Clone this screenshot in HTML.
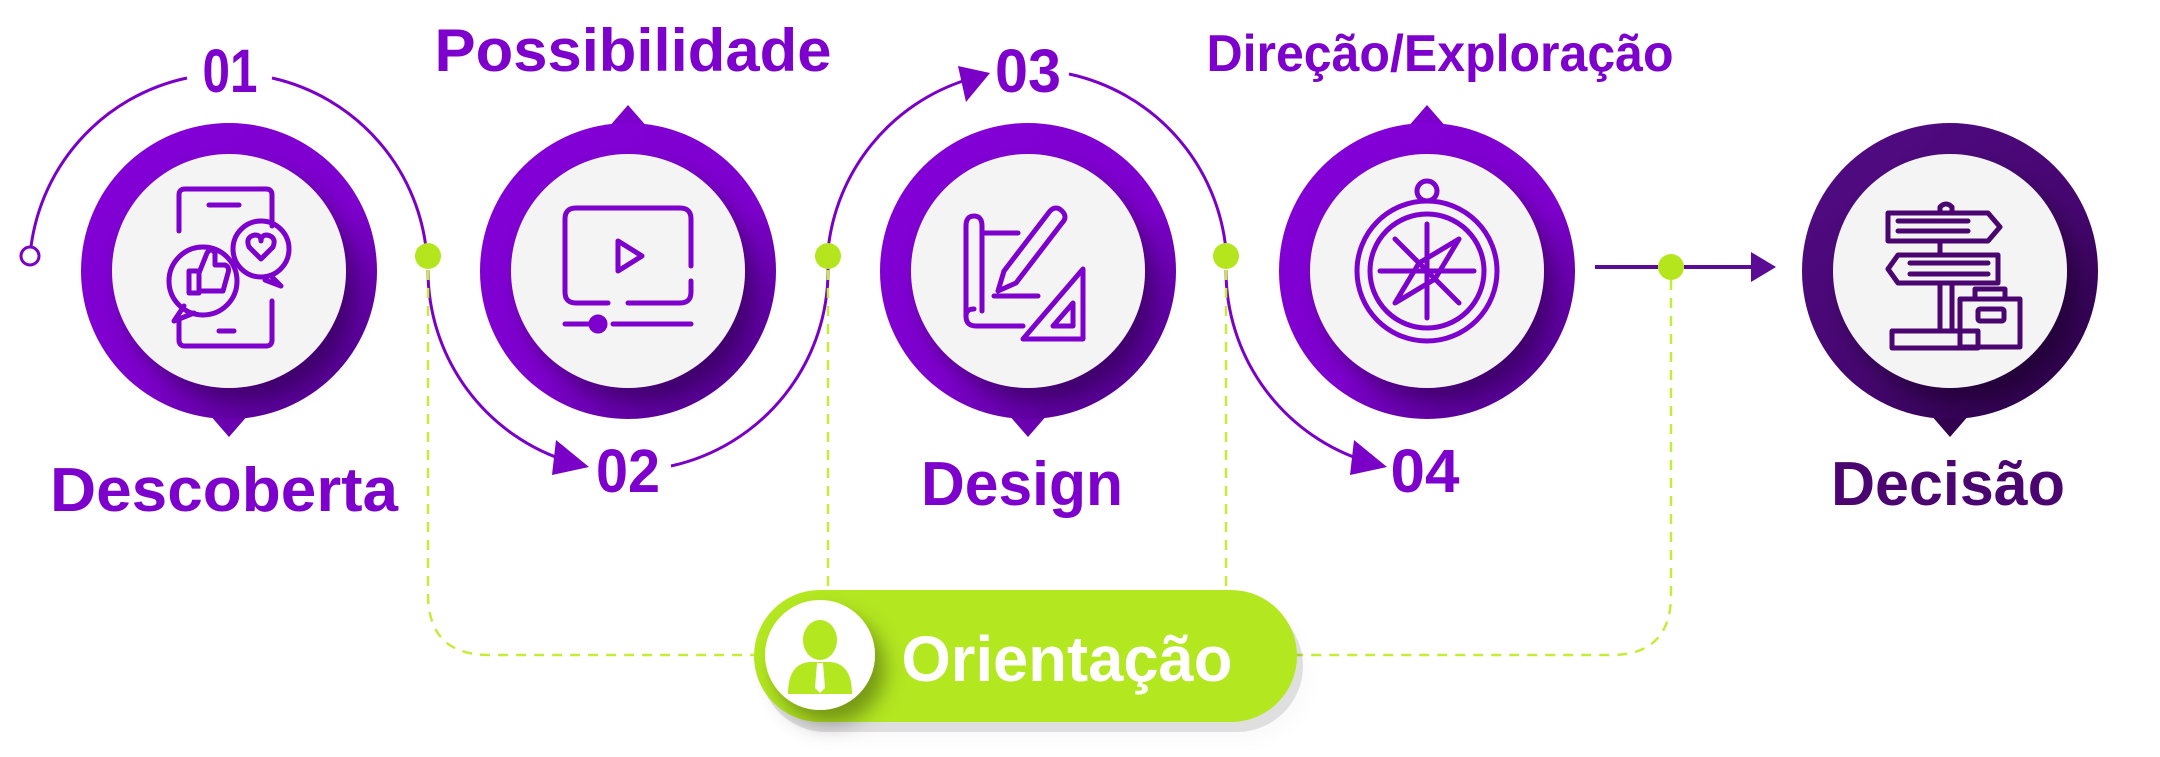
<!DOCTYPE html>
<html><head><meta charset="utf-8"><style>
html,body{margin:0;padding:0;background:#fff;}
svg{display:block;}
text{font-family:"Liberation Sans",sans-serif;font-weight:bold;}
</style></head><body>
<svg width="2160" height="757" viewBox="0 0 2160 757" xmlns="http://www.w3.org/2000/svg">
<defs>
<linearGradient id="ring" x1="0.2" y1="0.1" x2="0.9" y2="0.95">
<stop offset="0" stop-color="#8200d6"/><stop offset="0.55" stop-color="#7d00cc"/><stop offset="1" stop-color="#4c0086"/>
</linearGradient>
<linearGradient id="ring5" x1="0.2" y1="0.1" x2="0.9" y2="0.95">
<stop offset="0" stop-color="#4f0a80"/><stop offset="0.55" stop-color="#45066f"/><stop offset="1" stop-color="#2a0045"/>
</linearGradient>
<filter id="sh" x="-30%" y="-30%" width="160%" height="160%">
<feDropShadow dx="10" dy="14" stdDeviation="10" flood-color="#000" flood-opacity="0.35"/>
</filter>
<filter id="sh2" x="-30%" y="-30%" width="160%" height="160%">
<feDropShadow dx="6" dy="10" stdDeviation="10" flood-color="#000" flood-opacity="0.18"/>
</filter>
<marker id="ah" markerWidth="10" markerHeight="10" refX="6" refY="5" orient="auto" markerUnits="userSpaceOnUse" viewBox="0 0 10 10">
</marker>
</defs>

<!-- connectors -->
<g fill="none" stroke="#7a00c8" stroke-width="3">
<path d="M30,256 A199,199 0 0 1 187,78"/>
<path d="M272,78 A199,199 0 0 1 427,258"/>
<path d="M428,270 A200,200 0 0 0 570,462"/>
<path d="M671,466 A200,200 0 0 0 828,268"/>
<path d="M828,250 A200,200 0 0 1 966,80"/>
<path d="M1069,74 A200,200 0 0 1 1226,250"/>
<path d="M1226,270 A200,200 0 0 0 1368,462"/>
</g>
<circle cx="30" cy="256" r="9" fill="#fff" stroke="#7a00c8" stroke-width="3"/>
<g fill="#7a00c8">
<polygon points="556,440 589,467 552,475"/>
<polygon points="958,66 990,73 966,102"/>
<polygon points="1354,440 1387,467 1350,475"/>
</g>
<g stroke="#5a0d94" stroke-width="4">
<line x1="1595" y1="267" x2="1658" y2="267"/>
<line x1="1684" y1="267" x2="1755" y2="267"/>
</g>
<polygon points="1751,252 1776,267 1751,282" fill="#5a0d94"/>

<!-- dashed green -->
<g fill="none" stroke="#c6ec3a" stroke-width="2.5" stroke-dasharray="10 8">
<path d="M428,270 V594 Q428,655 489,655 H754"/>
<path d="M828,270 V592"/>
<path d="M1226,270 V592"/>
<path d="M1671,280 V595 Q1671,655 1611,655 H1297"/>
</g>
<g fill="#b5e61d">
<circle cx="428" cy="256" r="13"/><circle cx="828" cy="256" r="13"/>
<circle cx="1226" cy="256" r="13"/><circle cx="1671" cy="267" r="13"/>
</g>

<!-- circles -->
<g>
<polygon points="209,414 249,414 229,437" fill="#6a00b0"/>
<circle cx="229" cy="271" r="148" fill="url(#ring)"/>
<circle cx="229" cy="271" r="117" fill="#f4f4f4" filter="url(#sh)"/>

<polygon points="608,128 648,128 628,105" fill="#7d00cc"/>
<circle cx="628" cy="271" r="148" fill="url(#ring)"/>
<circle cx="628" cy="271" r="117" fill="#f4f4f4" filter="url(#sh)"/>

<polygon points="1008,414 1048,414 1028,437" fill="#6a00b0"/>
<circle cx="1028" cy="271" r="148" fill="url(#ring)"/>
<circle cx="1028" cy="271" r="117" fill="#f4f4f4" filter="url(#sh)"/>

<polygon points="1407,128 1447,128 1427,105" fill="#7d00cc"/>
<circle cx="1427" cy="271" r="148" fill="url(#ring)"/>
<circle cx="1427" cy="271" r="117" fill="#f4f4f4" filter="url(#sh)"/>

<polygon points="1930,414 1970,414 1950,437" fill="#33004f"/>
<circle cx="1950" cy="271" r="148" fill="url(#ring5)"/>
<circle cx="1950" cy="271" r="117" fill="#f4f4f4" filter="url(#sh)"/>
</g>

<!-- icons -->
<g fill="none" stroke="#7d00cc" stroke-width="5" stroke-linecap="round" stroke-linejoin="round">
<!-- icon1 phone -->
<g transform="translate(229,271)">
<path d="M-50,-40 V-76 Q-50,-82 -44,-82 H37 Q43,-82 43,-76 V-45"/>
<path d="M43,30 V69 Q43,75 37,75 H-44 Q-50,75 -50,69 V50"/>
<line x1="-20" y1="-66" x2="10" y2="-66"/><line x1="-10" y1="60" x2="5" y2="60"/>
<circle cx="-26" cy="10" r="34"/>
<path d="M-45,35 L-55,50 L-35,42"/>
<path d="M-40,0 h10 v22 h-10z M-30,2 l8,-20 q4,-6 8,0 v12 h10 q5,2 3,8 l-5,18 h-24"/>
<circle cx="32" cy="-22" r="28"/>
<path d="M32,-12 l-12,-12 q-4,-10 6,-12 q6,0 6,6 q0,-6 6,-6 q10,2 6,12z"/>
<path d="M42,5 l10,10 l-16,-6"/>
</g>
<!-- icon2 video -->
<g transform="translate(628,271)">
<path d="M-20,32 H-52 Q-63,32 -63,21 V-52 Q-63,-63 -52,-63 H52 Q63,-63 63,-52 V-5"/>
<path d="M63,10 V21 Q63,32 52,32 H0"/>
<path d="M-10,-30 V0 L14,-15 Z"/>
<line x1="-63" y1="53" x2="-40" y2="53"/><line x1="-15" y1="53" x2="63" y2="53"/>
<circle cx="-30" cy="53" r="7" fill="#7d00cc"/>
</g>
<!-- icon3 design -->
<g transform="translate(1028,271)">
<path d="M-62,-45 V45 Q-62,55 -52,55 H-5"/>
<path d="M-62,-45 Q-62,-55 -54,-55 Q-46,-55 -46,-45 V40"/>
<path d="M-46,-38 H-10"/><path d="M-62,45 Q-62,38 -54,38"/>
<path d="M-30,20 L-24,0 L22,-60 Q28,-66 34,-60 Q40,-54 34,-48 L-12,12 Z"/>
<line x1="-34" y1="25" x2="10" y2="25"/>
<path d="M-5,68 L55,68 L55,-2 Z"/><path d="M25,55 L45,55 L45,32 Z"/>
</g>
<!-- icon4 compass -->
<g transform="translate(1427,271)">
<circle cx="0" cy="0" r="70"/><circle cx="0" cy="0" r="57"/>
<circle cx="0" cy="-80" r="10"/>
<line x1="0" y1="-47" x2="0" y2="47"/><line x1="-47" y1="0" x2="47" y2="0"/>
<line x1="-32" y1="-32" x2="32" y2="32"/>
<path d="M32,-32 L8,8 L-32,32 L-8,-8 Z"/>
</g>
<!-- icon5 signpost -->
<g transform="translate(1950,271)" stroke="#4a0570">
<path d="M-62,-58 H38 L50,-44 L38,-30 H-62 Z"/>
<line x1="-52" y1="-50" x2="18" y2="-50"/><line x1="-52" y1="-40" x2="18" y2="-40"/>
<path d="M-10,-58 V-64 Q-4,-70 2,-64 V-58"/>
<path d="M-52,-16 H48 V12 H-52 L-62,-2 Z"/>
<line x1="-40" y1="-8" x2="38" y2="-8"/><line x1="-40" y1="3" x2="38" y2="3"/>
<path d="M-10,-30 V-16 M-10,12 V60 M2,12 V60"/>
<path d="M-58,60 H28 V77 H-58 Z"/>
<path d="M10,28 H70 V76 H10 Z"/><path d="M25,28 V18 H55 V28"/>
<rect x="28" y="38" width="26" height="12" rx="2"/>
</g>
</g>

<!-- pill -->
<rect x="760" y="600" width="543" height="132" rx="66" fill="#000" opacity="0.12" filter="url(#sh2)"/>
<rect x="754" y="590" width="543" height="132" rx="66" fill="#b3e720"/>
<circle cx="820" cy="655" r="55" fill="#fff" filter="url(#sh)"/>
<g fill="#b3e720">
<ellipse cx="820" cy="640" rx="17" ry="20"/>
<path d="M788,694 Q788,662 812,662 L828,662 Q852,662 852,694 Z"/>
</g>
<path d="M817,663 L823,663 L825,688 L820,693 L815,688 Z" fill="#fff"/>

<!-- labels -->
<g fill="#7d00cc">
<text x="230" y="92" font-size="61" text-anchor="middle" textLength="55" lengthAdjust="spacingAndGlyphs">01</text>
<text x="633" y="71" font-size="60" text-anchor="middle" textLength="397" lengthAdjust="spacingAndGlyphs">Possibilidade</text>
<text x="1028" y="92" font-size="61" text-anchor="middle" textLength="66" lengthAdjust="spacingAndGlyphs">03</text>
<text x="1440" y="71" font-size="52" text-anchor="middle" textLength="467" lengthAdjust="spacingAndGlyphs">Direção/Exploração</text>
<text x="224" y="511" font-size="62" text-anchor="middle" textLength="348" lengthAdjust="spacingAndGlyphs">Descoberta</text>
<text x="628" y="492" font-size="61" text-anchor="middle" textLength="64" lengthAdjust="spacingAndGlyphs">02</text>
<text x="1022" y="505" font-size="62" text-anchor="middle" textLength="202" lengthAdjust="spacingAndGlyphs">Design</text>
<text x="1425" y="492" font-size="61" text-anchor="middle" textLength="69" lengthAdjust="spacingAndGlyphs">04</text>
</g>
<text x="1948" y="505" font-size="62" text-anchor="middle" fill="#4a0570" textLength="234" lengthAdjust="spacingAndGlyphs">Decisão</text>
<text x="1067" y="681" font-size="64" text-anchor="middle" fill="#fff" textLength="331" lengthAdjust="spacingAndGlyphs">Orientação</text>
</svg>
</body></html>
